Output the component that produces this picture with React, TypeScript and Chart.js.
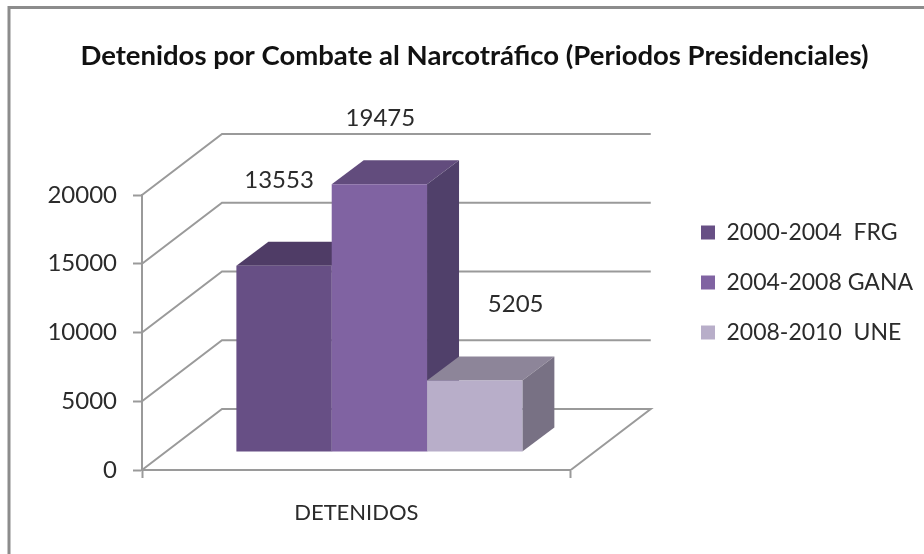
import React, { useEffect, useRef } from "react";
import { Chart, registerables } from "chart.js";

Chart.register(...registerables);

const categories = ["DETENIDOS"];
const seriesNames = ["2000-2004  FRG", "2004-2008 GANA", "2008-2010  UNE"];
const frgValues = [13553];
const ganaValues = [19475];
const uneValues = [5205];
const yTicks = [0, 5000, 10000, 15000, 20000];

const FONT = "Lato, 'Open Sans', sans-serif";
const AXIS_GRAY = "#9a9a9a";
const TEXT = "#2b2b2b";

// Shades per series: front, top and side faces of each block.
const faces = [
  { front: "#674f85", top: "#4f3c66", side: "#4f3c66" },
  { front: "#8063a2", top: "#624c7d", side: "#50406a" },
  { front: "#b8aec9", top: "#8d8599", side: "#787184" },
];

// Depth of the floor/walls, and of each block.
const WALL_DX = 80;
const WALL_DY = -61;
const BAR_SHIFT_X = 23;
const BAR_SHIFT_Y = -18;
const BAR_DX = 32;
const BAR_DY = -24;
// Where each value caption sits relative to the top centre of its block.
const labelOffsets = [
  [-5, -85],
  [1, -66],
  [41, -76],
];

// Paints the walls, then the extruded blocks from the first series to the last,
// so that each later block overlaps the side of the one before it.
const sceneryPlugin = {
  id: "scenery",
  beforeDatasetsDraw(chart: any) {
    const { ctx, scales } = chart;
    const left = scales.x.left;
    const right = scales.x.right;
    ctx.save();
    ctx.strokeStyle = AXIS_GRAY;
    ctx.lineWidth = 2;
    for (const v of yTicks) {
      const y = scales.y.getPixelForValue(v);
      ctx.beginPath();
      ctx.moveTo(left, y);
      ctx.lineTo(left + WALL_DX, y + WALL_DY);
      ctx.lineTo(right + WALL_DX, y + WALL_DY);
      if (v === 0) ctx.lineTo(right, y);
      ctx.stroke();
    }
    ctx.translate(BAR_SHIFT_X, BAR_SHIFT_Y);
    chart.data.datasets.forEach((_: any, i: number) => {
      const meta = chart.getDatasetMeta(i);
      const f = faces[i];
      for (const bar of meta.data) {
        const l = bar.x - bar.width / 2;
        const r = bar.x + bar.width / 2;
        ctx.fillStyle = f.top;
        ctx.beginPath();
        ctx.moveTo(l, bar.y);
        ctx.lineTo(l + BAR_DX, bar.y + BAR_DY);
        ctx.lineTo(r + BAR_DX, bar.y + BAR_DY);
        ctx.lineTo(r, bar.y);
        ctx.closePath();
        ctx.fill();
        ctx.fillStyle = f.side;
        ctx.beginPath();
        ctx.moveTo(r, bar.y);
        ctx.lineTo(r + BAR_DX, bar.y + BAR_DY);
        ctx.lineTo(r + BAR_DX, bar.base + BAR_DY);
        ctx.lineTo(r, bar.base);
        ctx.closePath();
        ctx.fill();
      }
      meta.controller.draw();
    });
    ctx.restore();
    return false;
  },
  afterDraw(chart: any) {
    const { ctx } = chart;
    ctx.save();
    ctx.font = `24px ${FONT}`;
    ctx.fillStyle = TEXT;
    ctx.textAlign = "center";
    ctx.textBaseline = "middle";
    chart.data.datasets.forEach((ds: any, i: number) => {
      const bar = chart.getDatasetMeta(i).data[0];
      const [ox, oy] = labelOffsets[i];
      ctx.fillText(String(ds.data[0]), bar.x + BAR_SHIFT_X + ox, bar.y + BAR_SHIFT_Y + oy);
    });
    ctx.restore();
  },
};

// Outer frame, title centre and legend column.
const framePlugin = {
  id: "frame",
  afterLayout(chart: any) {
    chart.titleBlock.left = 25;
    chart.titleBlock.right = 924;
    chart.legend.left = 674;
    chart.legend.right = 924;
    chart.legend.top = 194;
  },
  beforeDraw(chart: any) {
    const { ctx } = chart;
    ctx.save();
    ctx.strokeStyle = "#8c8c8c";
    ctx.lineWidth = 3;
    ctx.beginPath();
    ctx.moveTo(9, 554);
    ctx.lineTo(9, 7.5);
    ctx.lineTo(924, 7.5);
    ctx.stroke();
    ctx.restore();
  },
};

export default function App() {
  const ref = useRef<HTMLCanvasElement>(null);
  useEffect(() => {
    const chart = new Chart(ref.current!, {
      type: "bar",
      data: {
        labels: categories,
        datasets: [
          { label: seriesNames[0], data: frgValues, backgroundColor: faces[0].front },
          { label: seriesNames[1], data: ganaValues, backgroundColor: faces[1].front },
          { label: seriesNames[2], data: uneValues, backgroundColor: faces[2].front },
        ],
      },
      plugins: [sceneryPlugin, framePlugin],
      options: {
        animation: false,
        responsive: false,
        layout: { padding: { right: 163 } },
        datasets: { bar: { categoryPercentage: 0.667, barPercentage: 1 } },
        plugins: {
          tooltip: { enabled: false },
          title: {
            display: true,
            text: "Detenidos por Combate al Narcotráfico (Periodos Presidenciales)",
            color: "#111111",
            font: { family: FONT, size: 27.5, weight: "bold" },
            padding: { top: 40, bottom: 122 },
          },
          legend: {
            position: "right",
            align: "start",
            labels: {
              color: TEXT,
              font: { family: FONT, size: 23 },
              boxWidth: 14,
              boxHeight: 14,
              padding: 27,
            },
          },
        },
        scales: {
          x: {
            afterFit: (s: any) => { s.height = 84; },
            border: { color: AXIS_GRAY, width: 2 },
            grid: { drawOnChartArea: false, tickLength: 8, tickColor: AXIS_GRAY, tickWidth: 2 },
            ticks: { color: TEXT, font: { family: FONT, size: 22 }, padding: 22 },
          },
          y: {
            min: 0,
            max: 20000,
            afterFit: (s: any) => { s.width = 142; },
            afterBuildTicks: (s: any) => { s.ticks = yTicks.map((value) => ({ value })); },
            border: { color: AXIS_GRAY, width: 2 },
            grid: { drawOnChartArea: false, tickLength: 9, tickColor: AXIS_GRAY, tickWidth: 2 },
            ticks: { color: TEXT, font: { family: FONT, size: 24 }, padding: 16, callback: (v: any) => String(v) },
          },
        },
      },
    });
    return () => chart.destroy();
  }, []);
  return (
    <div style={{ position: "absolute", left: 0, top: 0, width: 924, height: 554, background: "#fff" }}>
      <canvas ref={ref} width={924} height={554} style={{ display: "block" }} />
    </div>
  );
}
